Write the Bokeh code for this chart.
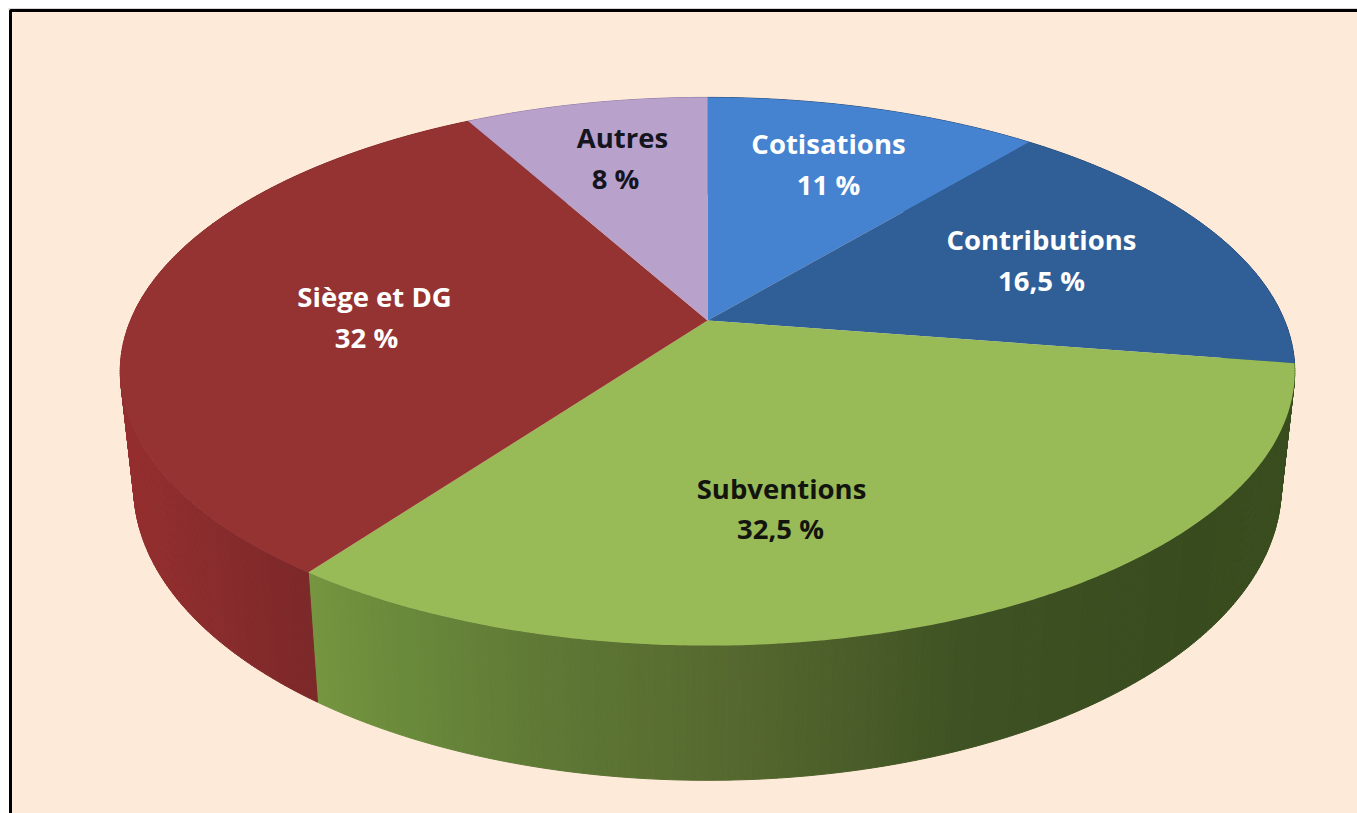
import numpy as np
from bokeh.plotting import figure
from bokeh.models import ColumnDataSource, Range1d
from bokeh.core.properties import value
from bokeh.embed import file_html
from bokeh.resources import INLINE

# ---- data ----
categories = ["Cotisations", "Contributions", "Subventions", "Siège et DG", "Autres"]
shares = [11, 16.5, 32.5, 32, 8]
share_labels = ["11 %", "16,5 %", "32,5 %", "32 %", "8 %"]

# ---- styles ----
top_colors = ["#4582cf", "#305f98", "#98bb57", "#953333", "#b8a2cc"]
text_colors = ["#ffffff", "#ffffff", "#14140f", "#ffffff", "#15151f"]
# shading of the side wall: (pixel x, colour)
wall_stops = [
    [(0, "#2c4f7c"), (1357, "#2c4f7c")],
    [(0, "#24486f"), (1357, "#24486f")],
    [(307, "#759540"), (400, "#6a8a3b"), (520, "#607b36"), (720, "#56692f"),
     (840, "#4c5f2a"), (960, "#3e5223"), (1200, "#384b1e"), (1295, "#3a4e1f")],
    [(120, "#952f2f"), (200, "#8a2c2d"), (300, "#7d2829")],
    [(0, "#8f7aa5"), (1357, "#8f7aa5")],
]
label_x = [828, 1041, 781, 374, 622]
label_y = [143, 239, 488, 296, 137]
pct_x = [828, 1041, 780, 366, 615]
pct_y = [184, 280, 528, 337, 178]

# ---- projection of the pie's disc onto the page ----
CX, CY = 707.0, 320.0
RAD, SCALE_Y, K = 577.0, 264.6, 0.186
WALL_CY, WALL_SX, WALL_SY = 432.0, 0.977, 1.07


def project(frac, cy=CY, sx=1.0, sy=1.0):
    a = 2 * np.pi * np.asarray(frac)
    u, v = np.sin(a), np.cos(a)
    d = 1 + K * v
    return CX + sx * RAD * u / d, cy - sy * SCALE_Y * v / d


def hex2rgb(c):
    return np.array([int(c[i:i + 2], 16) for i in (1, 3, 5)], dtype=float)


def shade(x, stops):
    xs = [s[0] for s in stops]
    cols = np.array([hex2rgb(s[1]) for s in stops])
    rgb = [int(round(np.interp(x, xs, cols[:, i]))) for i in range(3)]
    return "#%02x%02x%02x" % tuple(rgb)


total = sum(shares)
edges = np.cumsum([0] + list(shares)) / total

p = figure(width=1357, height=813, output_backend="svg", toolbar_location=None,
           x_range=Range1d(0, 1357), y_range=Range1d(813, 0),
           min_border=0, outline_line_color=None, background_fill_color="#ffffff",
           border_fill_color="#ffffff")
p.axis.visible = False
p.grid.visible = False

# page panel and frame
p.quad(left=10, right=1357, top=10, bottom=813, fill_color="#fdead9", line_color=None)
p.line([8, 1357], [8.5, 8.5], line_color="#b5aea8", line_width=1)
p.line([10, 10, 1357], [813, 10, 10], line_color="#000000", line_width=3)

# side wall
wx, wy, wc = [], [], []
for i in range(len(shares)):
    n = max(int((edges[i + 1] - edges[i]) * 720), 2)
    f = np.linspace(edges[i], edges[i + 1], n + 1)
    tx, ty = project(f)
    bx, by = project(f, WALL_CY, WALL_SX, WALL_SY)
    for j in range(n):
        wx.append([tx[j], tx[j + 1], bx[j + 1], bx[j]])
        wy.append([ty[j], ty[j + 1], by[j + 1], by[j]])
        wc.append(shade(0.5 * (tx[j] + tx[j + 1]), wall_stops[i]))
p.patches("x", "y", source=ColumnDataSource(dict(x=wx, y=wy, c=wc)),
          fill_color="c", line_color="c", line_width=1)

# top face
sx, sy = [], []
for i in range(len(shares)):
    n = max(int((edges[i + 1] - edges[i]) * 720), 2)
    f = np.linspace(edges[i], edges[i + 1], n + 1)
    tx, ty = project(f)
    sx.append([CX] + list(tx))
    sy.append([CY] + list(ty))
p.patches("x", "y", source=ColumnDataSource(dict(x=sx, y=sy, c=top_colors)),
          fill_color="c", line_color=None)

# labels
p.text(label_x, label_y, text=categories, text_color=text_colors,
       text_font=value("Open Sans"), text_font_style="bold", text_font_size="27.5px",
       text_align="center", text_baseline="middle")
p.text(pct_x, pct_y, text=share_labels, text_color=text_colors,
       text_font=value("Open Sans"), text_font_style="bold", text_font_size="27.5px",
       text_align="center", text_baseline="middle")

open("out.html", "w").write(file_html(p, INLINE))
